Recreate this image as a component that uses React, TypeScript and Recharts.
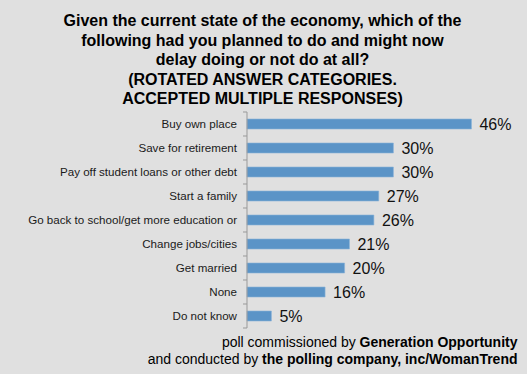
import React from 'react'
import { BarChart, Bar, XAxis, YAxis, LabelList } from 'recharts'

const categories = [
    'Buy own place',
    'Save for retirement',
    'Pay off student loans or other debt',
    'Start a family',
    'Go back to school/get more education or',
    'Change jobs/cities',
    'Get married',
    'None',
    'Do not know'
]

const percents = [46, 30, 30, 27, 26, 21, 20, 16, 5]

const titleLines = [
    'Given the current state of the economy, which of the',
    'following had you planned to do and might now',
    'delay doing or not do at all?',
    '(ROTATED ANSWER CATEGORIES.',
    'ACCEPTED MULTIPLE RESPONSES)'
]

const data = categories.map((name, i) => ({ name, value: percents[i] }))

const font = '"Liberation Sans", Arial, sans-serif'

function CategoryTick(props: any) {
    const { x, y, payload, index } = props
    return (
        <g>
            <text x={x} y={y} dy={4} textAnchor="end" fontSize={11.6} fill="#1a1a1a" fontFamily={font}>
                {payload.value}
            </text>
            <line x1={x + 6} x2={x + 10} y1={y - 12} y2={y - 12} stroke="#999" />
            {index === categories.length - 1 && (
                <line x1={x + 6} x2={x + 10} y1={y + 12} y2={y + 12} stroke="#999" />
            )}
        </g>
    )
}

export default function App() {
    return (
        <div style={{ position: 'absolute', left: 0, top: 0, width: 527, height: 374, background: '#e0e0e0', fontFamily: font }}>
            <div style={{ position: 'absolute', top: 11, left: 0, width: 525, textAlign: 'center', fontWeight: 'bold', fontSize: 16, lineHeight: '19.5px', color: '#000' }}>
                {titleLines.map(l => <div key={l}>{l}</div>)}
            </div>
            <BarChart
                width={527}
                height={374}
                data={data}
                layout="vertical"
                margin={{ top: 112, right: 36, bottom: 46, left: 0 }}
                barCategoryGap={7}
            >
                <XAxis type="number" domain={[0, 50]} hide />
                <YAxis
                    type="category"
                    dataKey="name"
                    width={247}
                    tickSize={0}
                    tickMargin={10}
                    tickLine={false}
                    axisLine={{ stroke: '#999' }}
                    tick={<CategoryTick />}
                    interval={0}
                />
                <Bar dataKey="value" fill="#5b94c7" stroke="#8cb4d9" strokeWidth={0.6} barSize={10} isAnimationActive={false}>
                    <LabelList dataKey="value" position="right" offset={8} formatter={(v: any) => v + '%'} fontSize={16} fill="#111" fontFamily={font} />
                </Bar>
            </BarChart>
            <div style={{ position: 'absolute', top: 334, right: 9.5, textAlign: 'right', fontSize: 14, lineHeight: '17px', color: '#000', whiteSpace: 'nowrap' }}>
                <div>poll commissioned by <b>Generation Opportunity</b></div>
                <div>and conducted by <b>the polling company, inc/WomanTrend</b></div>
            </div>
        </div>
    )
}
